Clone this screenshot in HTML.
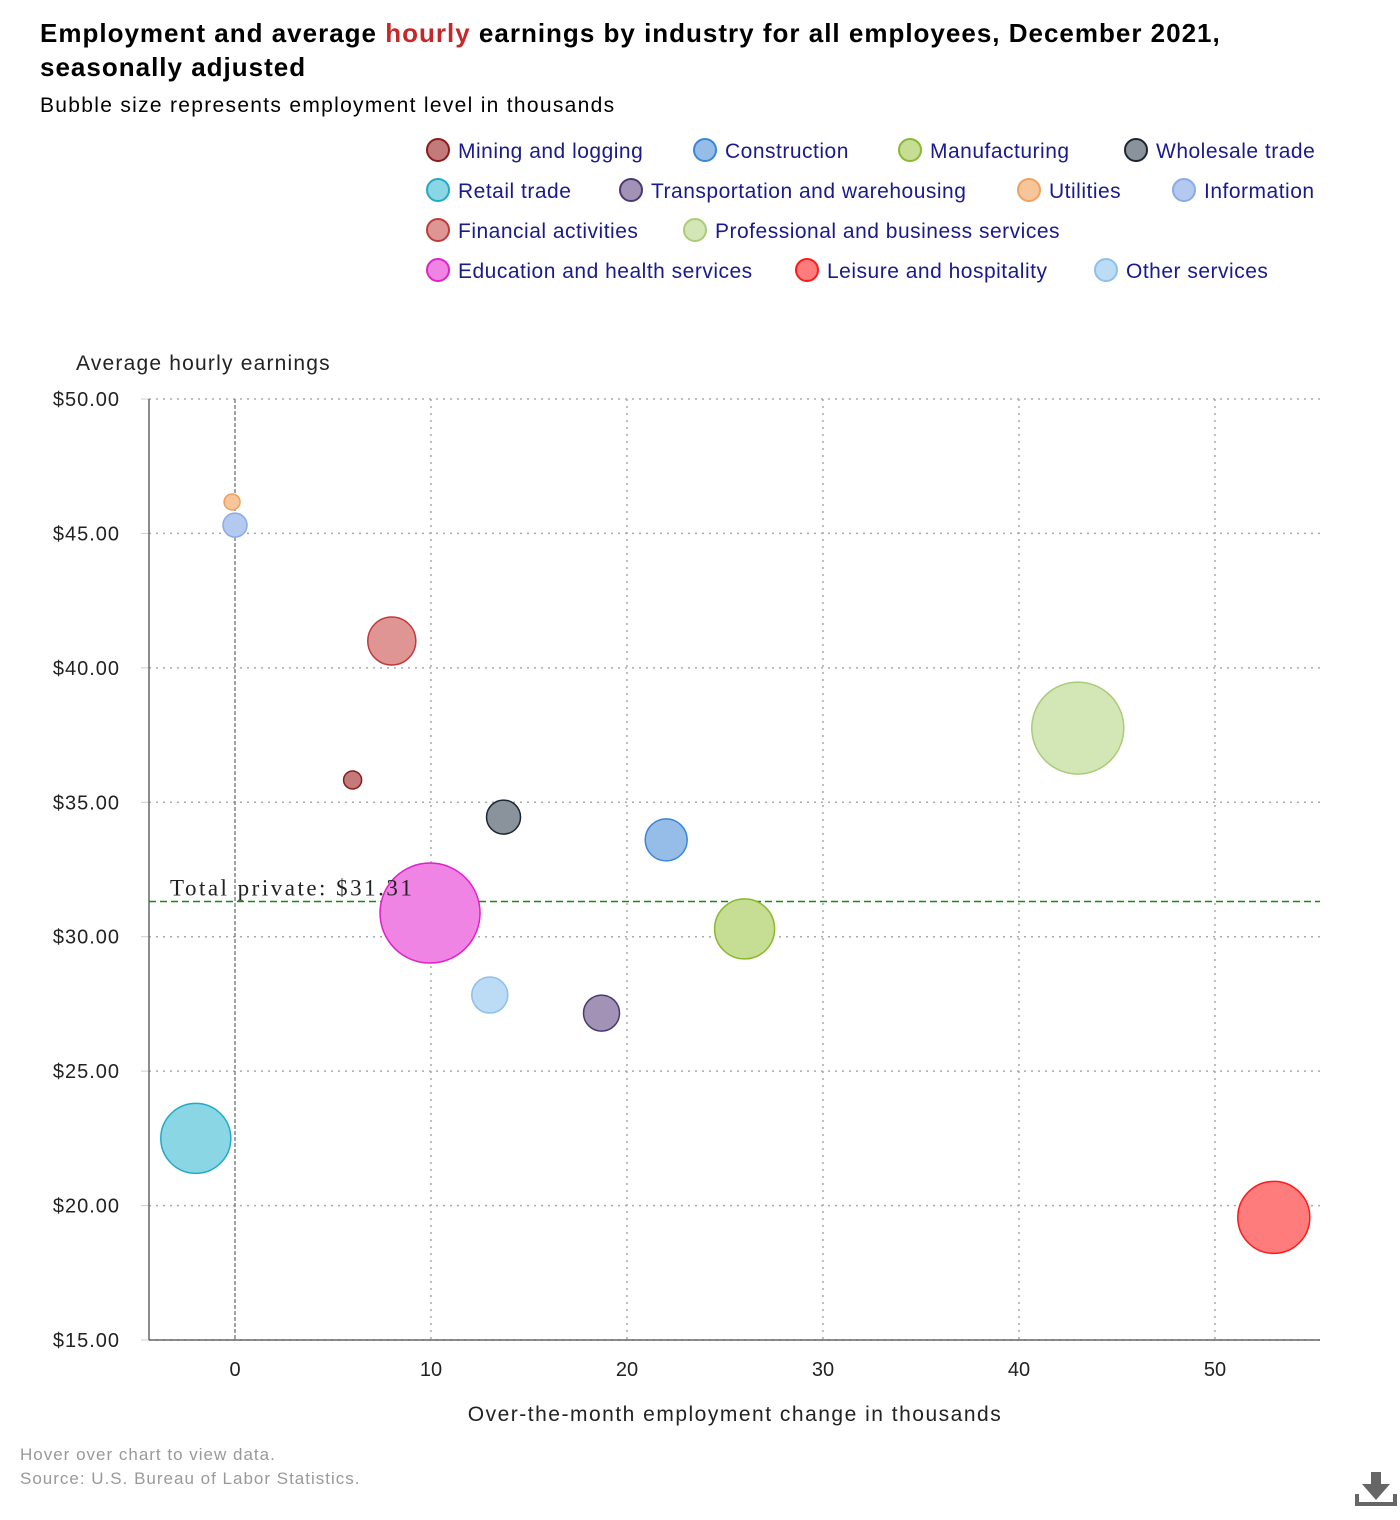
<!DOCTYPE html>
<html><head><meta charset="utf-8">
<style>
body{margin:0;background:#fff;width:1400px;height:1520px;overflow:hidden;font-family:"Liberation Sans",sans-serif;}
svg{position:absolute;left:0;top:0}
</style></head>
<body>
<svg id="chart" width="1400" height="1520" xmlns="http://www.w3.org/2000/svg">
<text x="40" y="42" font-size="26" font-weight="bold" fill="#000" letter-spacing="1">Employment and average <tspan fill="#c62828">hourly</tspan> earnings by industry for all employees, December 2021,</text>
<text x="40" y="76" font-size="26" font-weight="bold" fill="#000" letter-spacing="1">seasonally adjusted</text>
<text x="40" y="112" font-size="21" fill="#000" letter-spacing="1.3">Bubble size represents employment level in thousands</text>
<g id="legend"></g>
<g id="grid"></g>
<g id="marks"></g>
<g id="overlay"></g>
<text x="76" y="370" font-size="21" fill="#222" letter-spacing="1.2">Average hourly earnings</text>
<text x="735" y="1421" font-size="21" fill="#222" text-anchor="middle" letter-spacing="1.5">Over-the-month employment change in thousands</text>
<text x="20" y="1460" font-size="17" fill="#999" letter-spacing="1">Hover over chart to view data.</text>
<text x="20" y="1484" font-size="17" fill="#999" letter-spacing="1">Source: U.S. Bureau of Labor Statistics.</text>
<g fill="#666">
<rect x="1371" y="1472" width="10" height="14"/><polygon points="1362,1484 1390,1484 1376,1500"/>
<rect x="1355" y="1502" width="42" height="4"/><rect x="1355" y="1494" width="4" height="10"/><rect x="1393" y="1494" width="4" height="10"/>
</g>
</svg>
<script>
const industries=["Mining and logging","Construction","Manufacturing","Wholesale trade","Retail trade","Transportation and warehousing","Utilities","Information","Financial activities","Professional and business services","Education and health services","Leisure and hospitality","Other services"];
const empChange=[6.0,22.0,26.0,13.7,-2.0,18.7,-0.15,0.0,8.0,43.0,9.95,53.0,13.0];
const hourlyEarnings=[35.83,33.6,30.29,34.45,22.5,27.16,46.17,45.31,41.0,37.76,30.88,19.56,27.83];
const employment=[765,4163,8496,2728,11564,3058,600,1360,5437,19975,23600,12233,3058];
const xTicks=[0,10,20,30,40,50];
const yTicks=[15,20,25,30,35,40,45,50];
const totalPrivate=[31.31];
const fills=["#c47a7a","#95bde8","#c5de94","#8a939c","#8ad6e4","#a293b6","#f7c59a","#b3c9f0","#e09595","#d3e6b5","#f084e4","#ff7c7c","#bcdbf5"];
const strokes=["#8b1a1a","#3a86d8","#8ab82e","#1c2630","#20aac6","#4a3a70","#f0a060","#8aaae8","#c03a3a","#a8cc78","#e020c8","#ff1a1a","#8ec0ec"];
const NS="http://www.w3.org/2000/svg";
const L=149,R=1320,T=399,B=1340;
const X=v=>235+v*19.6, Y=v=>B-(v-15)*(B-T)/35, RAD=e=>0.3255*Math.sqrt(e);
function mk(t,a,p){const e=document.createElementNS(NS,t);for(const k in a)e.setAttribute(k,a[k]);p.appendChild(e);return e;}
const grid=document.getElementById('grid'),marks=document.getElementById('marks'),leg=document.getElementById('legend'),ov=document.getElementById('overlay');
yTicks.forEach(v=>{const l=mk('line',{x1:L,x2:R,y1:Y(v),y2:Y(v),stroke:'#aaa','stroke-dasharray':'2,5','stroke-width':1.5},grid);

const t=mk('text',{x:120,y:Y(v)+7,'font-size':20,fill:'#222','text-anchor':'end','letter-spacing':'1'},grid);t.textContent='$'+v.toFixed(2);

mk('line',{x1:L-8,x2:L,y1:Y(v),y2:Y(v),stroke:'#ccd'},grid);});
xTicks.forEach(v=>{const l=mk('line',{x1:X(v),x2:X(v),y1:T,y2:B,stroke:v==0?'#666':'#aaa','stroke-dasharray':v==0?'4,2':'2,5','stroke-width':v==0?1.2:1.5},grid);

const t=mk('text',{x:X(v),y:1376,'font-size':20,fill:'#222','text-anchor':'middle'},grid);t.textContent=v;
});
const ya=mk('line',{x1:L,x2:L,y1:T,y2:B,stroke:'#666','stroke-width':1.5},grid);

const xa=mk('line',{x1:L,x2:R,y1:B,y2:B,stroke:'#666','stroke-width':1.5},grid);

const rl=mk('line',{x1:L,x2:R,y1:Y(totalPrivate[0]),y2:Y(totalPrivate[0]),stroke:'#138a13','stroke-dasharray':'7,4','stroke-width':1.5},grid);

const order=industries.map((n,i)=>i).sort((a,b)=>employment[b]-employment[a]);
order.forEach(i=>{const c=mk('circle',{cx:X(empChange[i]),cy:Y(hourlyEarnings[i]),r:RAD(employment[i]),fill:fills[i],stroke:strokes[i],'stroke-width':1.5},marks);

});
const rt=mk('text',{x:170,y:Y(totalPrivate[0])-6,'font-size':23,fill:'#222','font-family':'Liberation Serif, serif','letter-spacing':'2.5'},ov);
rt.textContent='Total private: $'+totalPrivate[0].toFixed(2);

const lp=[[438,150],[705,150],[910,150],[1136,150],[438,190],[631,190],[1029,190],[1184,190],[438,230],[695,230],[438,270],[807,270],[1106,270]];
industries.forEach((n,i)=>{const g=mk('g',{},leg);

mk('circle',{cx:lp[i][0],cy:lp[i][1],r:11,fill:fills[i],stroke:strokes[i],'stroke-width':2},g);
const t=mk('text',{x:lp[i][0]+20,y:lp[i][1]+8,'font-size':21,fill:'#1a1a8c','letter-spacing':'0.5'},g);t.textContent=n;});
</script>
</body></html>
